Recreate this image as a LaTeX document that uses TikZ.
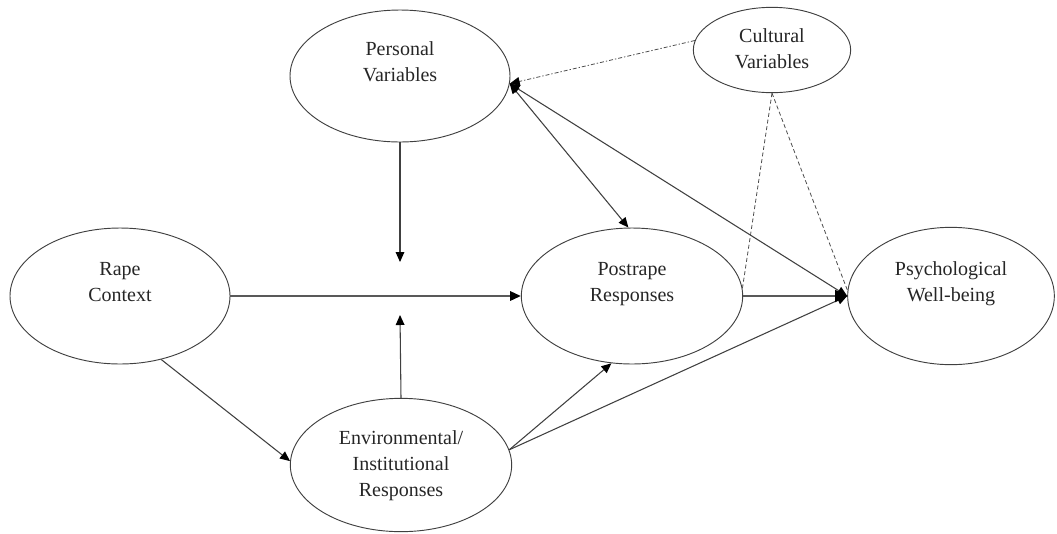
\documentclass[tikz,border=0pt]{standalone}
\usepackage{fontspec}
\setmainfont{Liberation Serif}
\usetikzlibrary{shapes.geometric,arrows.meta}
\tikzset{
  >={Triangle[length=7.5pt,width=6.5pt,color=black]},
  var/.style={ellipse, draw=black!75, line width=0.7pt, inner sep=0pt, align=center,
    text=black!85, font=\fontsize{15}{19.5}\selectfont},
  link/.style={draw=black!75, line width=0.8pt},
  mainlink/.style={draw=black!65, line width=1.4pt},
  culture/.style={draw=black!70, line width=0.6pt, dash pattern=on 3pt off 1.5pt on 1pt off 1.5pt},
}
\begin{document}
\begin{tikzpicture}[x=0.75pt,y=-0.75pt]
  \useasboundingbox (0,0) rectangle (1057,533);
  % ovals
  \node[var, minimum width=165pt, minimum height=99pt] (pers) at (400,76)
    {\strut Personal\\\strut Variables\\\strut};
  \node[var, minimum width=118pt, minimum height=64pt] (cult) at (772,50)
    {\strut Cultural\\\strut Variables};
  \node[var, minimum width=165pt, minimum height=102pt] (rape) at (120,296)
    {\strut Rape\\\strut Context\\\strut};
  \node[var, minimum width=166pt, minimum height=100pt] (env) at (401,465)
    {\strut Environmental/\\\strut Institutional\\\strut Responses};
  \node[var, minimum width=166pt, minimum height=102pt] (post) at (632,296)
    {\strut Postrape\\\strut Responses\\\strut};
  \node[var, minimum width=155pt, minimum height=103pt] (psy) at (951,296)
    {\strut Psychological\\\strut Well-being\\\strut};
  % free ends of the moderating arrows
  \coordinate (pdown) at (400,262);
  \coordinate (pup) at (400,315);
  % paths
  \draw[link,->] (pers.south) -- (pdown);
  \draw[link,->] (env.north) -- (pup);
  \draw[mainlink,->,>={Triangle[length=8pt,width=7pt,color=black]}] (rape.east) -- (post.west);
  \draw[link,->] (rape.-57) -- (env.178);
  \draw[link,->] (env.8) -- (post.253);
  \draw[link,->] (env.8) -- (psy.west);
  \draw[mainlink,->,>={Triangle[length=9pt,width=9pt,color=black]}] (post.east) -- (psy.west);
  \draw[link,<->] (pers.-4) -- (post.93);
  \draw[link,<->] (pers.-4) -- (psy.west);
  % cultural influences
  \draw[culture,->] (cult.173) -- (pers.-4);
  \draw[culture,dash pattern=on 3pt off 2pt] (cult.south) -- (post.4);
  \draw[culture,dash pattern=on 3pt off 2pt] (cult.south) -- (psy.177);
\end{tikzpicture}
\end{document}
